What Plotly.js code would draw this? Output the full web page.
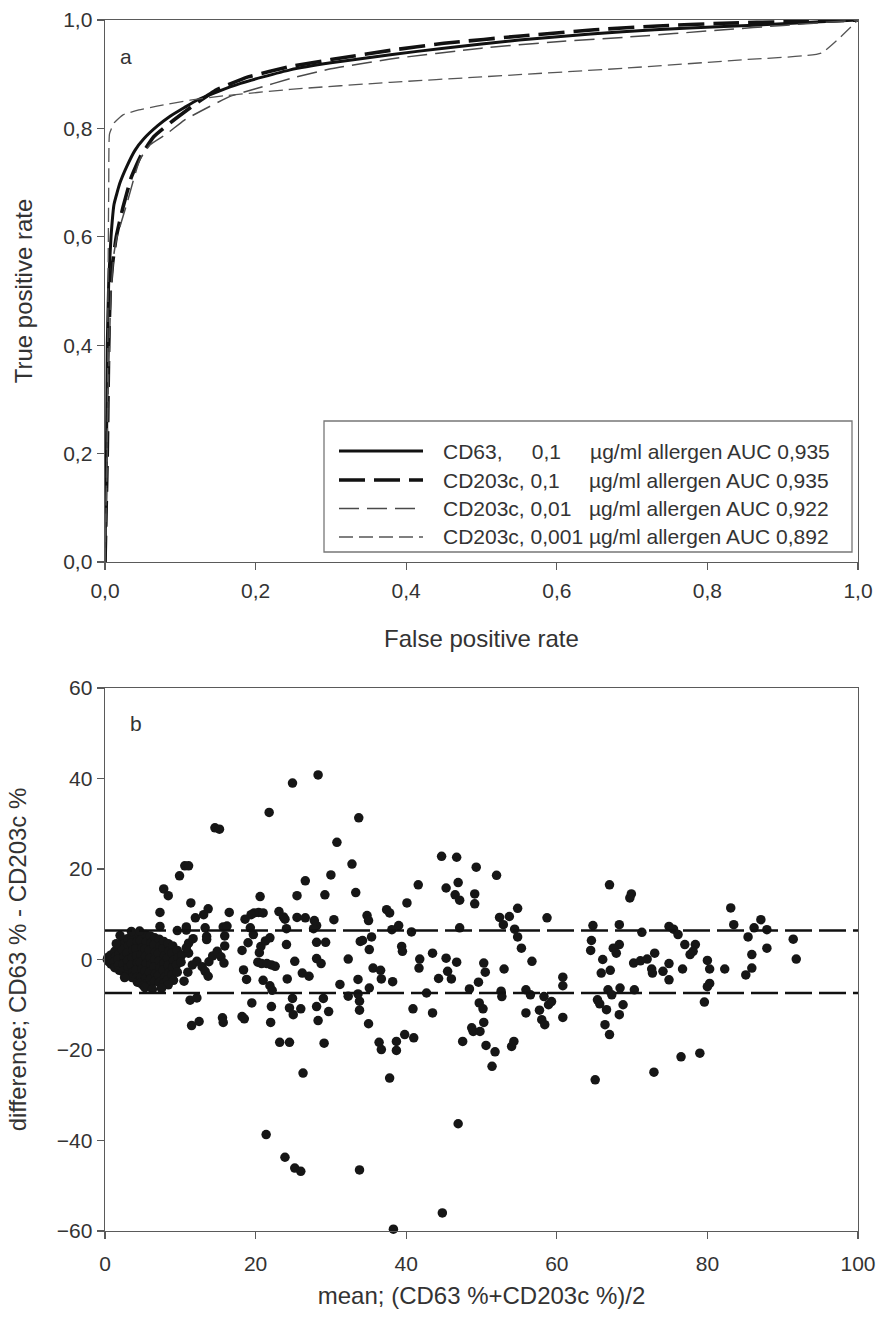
<!DOCTYPE html>
<html><head><meta charset="utf-8">
<script src="https://cdn.plot.ly/plotly-3.0.1.min.js"></script>
<style>html,body{margin:0;padding:0;background:#fff}#chart{width:877px;height:1320px}</style>
</head><body><div id="chart"></div>
<script>
// ---------- Panel a: ROC curves ----------
const fprCD63   = [0,0.002,0.003,0.005,0.008,0.012,0.02,0.029,0.04,0.051,0.07,0.086,0.105,0.122,0.15,0.18,0.21,0.246,0.3,0.379,0.45,0.55,0.645,0.73,0.822,0.9,0.95,1];
const tprCD63   = [0,0.2,0.4,0.52,0.6,0.66,0.7,0.73,0.76,0.78,0.805,0.822,0.838,0.852,0.868,0.883,0.895,0.908,0.921,0.936,0.948,0.963,0.974,0.982,0.988,0.993,0.997,1];
const fprCD203a = [0,0.003,0.005,0.007,0.01,0.015,0.024,0.035,0.047,0.065,0.091,0.12,0.148,0.19,0.246,0.3,0.379,0.45,0.556,0.65,0.734,0.82,0.911,1];
const tprCD203a = [0,0.2,0.4,0.5,0.55,0.6,0.655,0.71,0.748,0.785,0.815,0.845,0.871,0.895,0.914,0.927,0.944,0.957,0.971,0.982,0.989,0.994,0.997,1];
const fprCD203b = [0,0.004,0.008,0.012,0.016,0.029,0.046,0.06,0.082,0.105,0.13,0.166,0.2,0.246,0.3,0.379,0.5,0.6,0.689,0.822,0.9,1];
const tprCD203b = [0,0.3,0.5,0.57,0.6,0.661,0.742,0.77,0.79,0.815,0.834,0.859,0.873,0.892,0.91,0.928,0.948,0.96,0.968,0.982,0.99,1];
const fprCD203c = [0,0.003,0.004,0.005,0.006,0.012,0.024,0.045,0.069,0.113,0.157,0.246,0.379,0.5,0.689,0.85,0.951,1];
const tprCD203c = [0,0.2,0.5,0.7,0.79,0.81,0.825,0.834,0.841,0.852,0.86,0.872,0.885,0.895,0.911,0.927,0.939,1];
const rocLabels = [
  'CD63,\u00a0\u00a0\u00a0\u00a0\u00a00,1\u00a0\u00a0\u00a0\u00a0\u00a0µg/ml allergen AUC 0,935',
  'CD203c, 0,1\u00a0\u00a0\u00a0\u00a0\u00a0µg/ml allergen AUC 0,935',
  'CD203c, 0,01\u00a0\u00a0\u00a0µg/ml allergen AUC 0,922',
  'CD203c, 0,001 µg/ml allergen AUC 0,892'
];
const rateTicks = [0,0.2,0.4,0.6,0.8,1.0];

// ---------- Panel b: Bland-Altman (mean, difference) ----------
const pointsUpperLeft = [[28.3,40.8],[24.9,39.0],[21.8,32.5],[33.7,31.3],[14.6,29.1],[15.2,28.8],[30.8,25.9],[9.9,18.5],[10.6,20.7],[11.1,20.7],
 [32.8,21.1],[30.0,18.7],[26.6,17.4],[33.3,14.8],[7.8,15.6],[8.4,14.1],[20.6,13.9],[25.5,14.1],[29.2,14.3],[11.4,12.5],
 [7.3,10.4],[13.7,11.2],[13.1,9.9],[12.0,9.2],[16.5,10.4],[19.8,10.3],[20.4,10.4],[21.0,10.3],[19.4,9.9],[18.6,8.9],
 [23.1,10.6],[23.7,9.4],[23.9,8.9],[25.5,9.3],[26.6,9.2],[27.8,8.6],[28.1,7.5],[30.4,8.8],[7.3,7.3],[10.8,7.2],
 [9.6,6.4],[13.3,7.0],[13.5,5.1],[15.7,7.2],[16.2,7.4],[19.3,7.0],[19.7,5.5],[24.1,6.8],[27.7,6.8],[11.1,3.6],
 [15.9,5.2],[15.9,3.0],[18.2,2.0],[20.7,2.9],[21.3,4.1],[21.9,4.8],[24.1,3.3],[28.1,3.8],[29.3,3.8],[33.9,4.0]];
const pointsLowerLeft = [[11.1,1.4],[12.2,-0.4],[12.9,-1.6],[13.3,-2.6],[13.7,-3.7],[13.8,-0.5],[14.3,0.8],[14.9,1.8],[15.4,0.6],[15.8,-0.8],
 [13.5,4.4],[18.4,-2.3],[18.8,-4.4],[19.0,3.7],[20.5,1.5],[20.3,-0.6],[20.8,-0.9],[21.5,-0.9],[22.1,-1.2],[22.6,-1.5],
 [21.0,-4.6],[21.9,-5.8],[22.2,-6.8],[24.2,-4.3],[25.2,-0.4],[26.2,-3.0],[27.1,-3.7],[28.1,0.2],[28.7,-0.9],[32.3,0.1],
 [31.2,-5.5],[32.3,-8.1],[33.6,-4.4],[33.8,-9.2],[11.3,-9.0],[12.2,-8.5],[11.5,-14.6],[12.5,-13.7],[15.6,-12.9],[15.7,-13.9],
 [18.2,-12.6],[18.5,-13.1],[19.5,-9.6],[22.1,-10.4],[22.0,-13.9],[24.5,-10.7],[25.0,-12.2],[26.0,-10.9],[24.9,-8.6],[28.1,-10.4],
 [29.7,-11.5],[28.3,-13.5],[29.0,-8.6],[23.2,-18.3],[24.5,-18.3],[29.1,-18.5],[26.3,-25.1],[21.4,-38.7],[23.9,-43.7],[25.2,-46.1],
 [26.0,-46.8],[33.8,-46.5]];
const pointsUpperMid = [[44.7,22.8],[46.7,22.6],[49.3,20.4],[52.0,18.6],[46.9,17.0],[45.3,15.8],[46.5,14.3],[47.1,13.1],[49.1,14.5],[49.1,12.3],
 [41.6,16.5],[40.1,12.5],[37.4,11.0],[37.8,10.3],[34.8,9.7],[35.0,8.6],[58.7,9.2],[52.4,9.3],[52.9,7.7],[53.7,9.5],
 [54.8,11.3],[39.0,7.5],[38.1,6.6],[40.7,6.1],[47.1,7.0],[54.4,6.7],[54.8,5.0],[55.3,2.5],[64.8,7.5],[67.0,16.5],
 [34.2,4.2],[35.4,5.0],[35.1,2.2],[39.4,2.9],[39.5,1.8],[64.6,4.2],[64.5,2.0]];
const pointsLowerMid = [[41.8,0.1],[41.7,-1.9],[43.5,1.4],[45.3,0.3],[46.7,-0.6],[45.5,-2.6],[46.0,-4.3],[44.3,-4.2],[35.6,-1.9],[36.6,-2.4],
 [36.7,-4.3],[38.2,-4.9],[33.6,-7.6],[35.1,-6.3],[33.8,-11.2],[35.0,-14.2],[42.7,-7.4],[40.9,-10.9],[43.5,-11.8],[36.4,-18.3],
 [36.7,-19.9],[38.7,-18.1],[38.7,-20.1],[39.8,-16.6],[41.0,-17.3],[37.8,-26.2],[46.9,-36.3],[50.3,-0.8],[50.5,-2.8],[49.6,-5.0],
 [48.4,-6.5],[49.7,-9.6],[50.2,-10.9],[50.3,-13.9],[48.7,-15.1],[48.9,-15.9],[49.8,-15.9],[47.5,-18.1],[50.6,-19.0],[51.8,-20.4],
 [51.4,-23.6],[53.0,-2.1],[52.6,-7.0],[52.7,-8.2],[54.0,-19.2],[54.3,-18.1],[56.7,-0.4],[55.9,-6.7],[56.5,-7.8],[55.9,-11.8],
 [57.7,-11.2],[58.0,-13.3],[58.4,-14.4],[58.3,-8.2],[58.9,-10.0],[59.3,-9.3],[60.8,-3.9],[60.8,-5.8],[60.8,-12.8],[65.1,-26.6],
 [66.1,0.0],[65.9,-3.0],[67.1,-2.4],[66.8,-6.7],[65.4,-8.9],[65.7,-9.8],[66.4,-14.4],[67.0,-16.6],[66.6,-11.1],
 [38.3,-59.6],[44.8,-56.0]];
const pointsRight = [[69.9,14.5],[69.7,13.6],[83.1,11.4],[83.5,7.7],[87.1,8.8],[86.2,7.0],[87.9,6.6],[85.4,5.0],[85.9,1.1],[87.9,2.5],
 [91.4,4.5],[91.8,0.1],[68.3,7.7],[68.3,3.3],[67.5,2.5],[67.9,1.4],[71.3,6.0],[74.9,7.3],[75.5,6.7],[76.1,5.5],
 [77.0,3.3],[78.4,3.3],[78.1,1.8],[77.7,1.1],[73.0,1.4],[72.0,0.1],[70.2,-0.8],[71.1,-0.3],[80.0,-0.2],[80.3,-2.1],
 [82.3,-2.1],[85.9,-1.9],[85.1,-3.4],[74.9,-0.9],[74.1,-2.6],[74.9,-4.5],[72.6,-2.1],[72.7,-3.0],[76.7,-2.1],[67.3,-7.8],
 [68.4,-6.3],[70.3,-6.7],[80.3,-5.3],[80.0,-6.0],[68.3,-12.2],[68.8,-10.0],[79.6,-9.4],[72.9,-24.9],[76.5,-21.5],[79.0,-20.7]];
const pointsNearCluster = [[3.5,6.2],[4.6,6.3],[2.0,5.3],[10.8,6.5],[5.1,-5.8],[5.3,-6.2],[8.4,-5.6],[6.3,-6.6],[7.5,-6.4],[10.5,-4.8],
 [11.0,-2.8],[11.6,-1.2],[10.8,2.6],[11.7,4.6],[1.5,3.5],[2.6,-4.0]];
const clusterMean = [0.3,0.4,0.5, 0.8,0.9,0.8, 1.3,1.4,1.2,1.3, 1.8,1.9,1.7,1.8,1.9, 2.4,2.3,2.5,2.4,2.3, 3.0,3.1,2.9,3.0,3.1,2.9,
 3.6,3.5,3.7,3.6,3.5,3.7,3.6, 4.2,4.3,4.1,4.2,4.3,4.1,4.2,4.3, 4.8,4.7,4.9,4.8,4.7,4.9,4.8,4.7, 5.4,5.5,5.3,5.4,5.5,5.3,5.4,5.5,
 6.0,6.1,5.9,6.0,6.1,5.9,6.0,6.1, 6.6,6.5,6.7,6.6,6.5,6.7,6.6, 7.2,7.3,7.1,7.2,7.3,7.1,7.2, 7.8,7.7,7.9,7.8,7.7,7.9,7.8,
 8.4,8.5,8.3,8.4,8.5,8.3, 9.0,8.9,9.1,9.0,8.9,9.1, 9.6,9.7,9.5,9.6, 10.2,10.1];
const clusterDiff = [0,0.5,-0.5, 1,0,-1, 1.8,0.6,-0.6,-1.8, 2.5,1.2,0,-1.2,-2.4, 3.8,2.2,0.6,-1,-2.6, 4.6,3,1.4,-0.2,-1.8,-3.4,
 5.2,3.6,2,0.4,-1.2,-2.8,-4.0, 5.6,4,2.4,0.8,-0.8,-2.4,-4.0,-5.0, 5.8,4.2,2.6,1.0,-0.6,-2.2,-3.8,-5.2, 5.5,3.9,2.3,0.7,-0.9,-2.5,-4.1,-5.4,
 5.2,3.6,2,0.4,-1.2,-2.8,-4.4,-5.6, 4.8,3.2,1.6,0,-1.6,-3.2,-4.8, 4.5,2.9,1.3,-0.3,-1.9,-3.5,-5.1, 4.0,2.4,0.8,-0.8,-2.4,-4.0,-5.2,
 3.5,1.9,0.3,-1.3,-2.9,-4.5, 3.0,1.4,-0.2,-1.8,-3.4,-4.6, 2.0,0.4,-1.2,-2.8, 1.0,-0.6];
const limitsOfAgreement = [6.4, -7.4];
const meanAxisRange = [0, 100];
const diffTicks = [-60,-40,-20,0,20,40,60];
const meanTicks = [0,20,40,60,80,100];

// ---------- build ----------
const W = 877, H = 1320;
const PX = v => v / W, PY = v => 1 - v / H;
const FONT = 'Liberation Sans, Arial, Helvetica, sans-serif';
const TXT = '#333';
const AX = '#5a5a5a';
const NB = '\u00a0';

const rocStyles = [
  {color:'#111', width:3},
  {color:'#111', width:3.6, dash:'26px,9px'},
  {color:'#4a4a4a', width:1.5, dash:'20px,8px'},
  {color:'#555', width:1.3, dash:'14px,6px'}
];
const rocX = [fprCD63, fprCD203a, fprCD203b, fprCD203c];
const rocY = [tprCD63, tprCD203a, tprCD203b, tprCD203c];

const traces = rocX.map((xs, i) => ({
  type:'scatter', mode:'lines', x: xs, y: rocY[i], xaxis:'x', yaxis:'y',
  name: rocLabels[i], line: Object.assign({shape:'spline', smoothing:0.4}, rocStyles[i]),
  showlegend:false, hoverinfo:'skip'
}));

const allPairs = [].concat(pointsUpperLeft, pointsLowerLeft, pointsUpperMid, pointsLowerMid, pointsRight, pointsNearCluster);
traces.push({
  type:'scatter', mode:'markers', xaxis:'x2', yaxis:'y2',
  x: clusterMean.concat(allPairs.map(p => p[0])),
  y: clusterDiff.concat(allPairs.map(p => p[1])),
  marker:{color:'#161616', size:9.5, line:{width:0}},
  cliponaxis:false, showlegend:false, hoverinfo:'skip'
});
limitsOfAgreement.forEach(v => traces.push({
  type:'scatter', mode:'lines', xaxis:'x2', yaxis:'y2',
  x: meanAxisRange, y: [v, v],
  line:{color:'#111', width:2.6, dash:'27px,7px'}, showlegend:false, hoverinfo:'skip'
}));

function axisBase(extra){
  return Object.assign({
    showline:true, mirror:true, linecolor:AX, linewidth:1.4,
    ticks:'outside', ticklen:7, tickwidth:1.3, tickcolor:AX,
    showgrid:false, zeroline:false, automargin:false, fixedrange:true,
    tickfont:{family:FONT, size:21, color:TXT}
  }, extra);
}

const legendRows = [451, 480, 508.5, 537];
const shapes = [{type:'rect', xref:'paper', yref:'paper', x0:PX(324), x1:PX(852), y0:PY(552), y1:PY(421),
  line:{color:'#777', width:1.3}, fillcolor:'rgba(0,0,0,0)'}];
const annotations = [];
legendRows.forEach((r, i) => {
  const st = rocStyles[i];
  shapes.push({type:'line', xref:'paper', yref:'paper', x0:PX(339), x1:PX(423), y0:PY(r), y1:PY(r),
    line:{color:st.color, width:st.width, dash:st.dash || 'solid'}});
  annotations.push({xref:'paper', yref:'paper', x:PX(441), y:PY(r), xanchor:'left', yanchor:'middle',
    text:rocLabels[i], showarrow:false, font:{family:FONT, size:21, color:TXT}});
});
annotations.push({xref:'paper', yref:'paper', x:PX(126), y:PY(56), text:'a', showarrow:false,
  xanchor:'center', yanchor:'middle', font:{family:FONT, size:21, color:TXT}});
annotations.push({xref:'paper', yref:'paper', x:PX(136), y:PY(723), text:'b', showarrow:false,
  xanchor:'center', yanchor:'middle', font:{family:FONT, size:21, color:TXT}});

const layout = {
  width:W, height:H, margin:{l:0, r:0, t:0, b:0}, autosize:false,
  paper_bgcolor:'#fff', plot_bgcolor:'#fff', separators:', ',
  font:{family:FONT, color:TXT}, showlegend:false,
  xaxis: axisBase({domain:[PX(105), PX(858)], anchor:'y', range:[0,1], tickvals:rateTicks, tickformat:'.1f',
    ticklabelstandoff:2,
    title:{text:'False positive rate', font:{family:FONT, size:24, color:TXT}, standoff:29}}),
  yaxis: axisBase({domain:[PY(562), PY(20)], anchor:'x', range:[0,1], tickvals:rateTicks, tickformat:'.1f',
    title:{text:'True positive rate', font:{family:FONT, size:24, color:TXT}, standoff:23}}),
  xaxis2: axisBase({domain:[PX(105), PX(858)], anchor:'y2', range:meanAxisRange, tickvals:meanTicks,
    ticklabelstandoff:6,
    title:{text:'mean; (CD63 %+CD203c %)/2', font:{family:FONT, size:24, color:TXT}, standoff:13}}),
  yaxis2: axisBase({domain:[PY(1231), PY(688)], anchor:'x2', range:[-60,60], tickvals:diffTicks,
    title:{text:NB+NB+NB+NB+'difference; CD63 % - CD203c %', font:{family:FONT, size:24, color:TXT}, standoff:23}}),
  shapes: shapes, annotations: annotations
};

Plotly.newPlot('chart', traces, layout, {displayModeBar:false, staticPlot:true});
</script></body></html>
